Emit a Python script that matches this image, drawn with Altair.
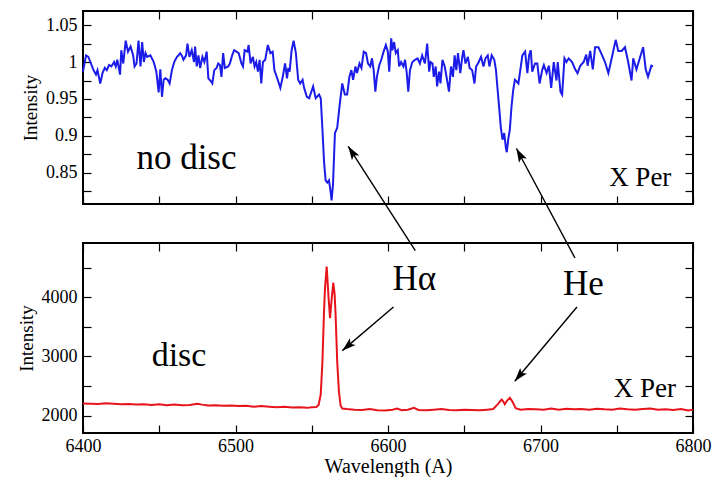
import math
import altair as alt
import pandas as pd

FONT = "Liberation Serif"

# ---------------- data ----------------
# top panel (X Per, no disc): (wavelength, normalised intensity)
blue_seg1 = [
    (6400.0, 0.987), (6402.0, 1.009), (6403.5, 1.007), (6405.2, 0.998), (6406.9, 0.989),
    (6408.5, 0.983), (6409.5, 0.989), (6411.3, 0.971), (6412.8, 0.985), (6414.3, 0.992),
    (6415.6, 0.989), (6417.1, 0.996), (6418.6, 0.994), (6420.4, 1.000), (6421.5, 0.994),
    (6422.5, 1.003), (6424.3, 0.983), (6425.1, 1.016), (6426.4, 0.998), (6428.0, 1.029),
    (6429.5, 1.014), (6431.2, 1.021), (6432.9, 1.009), (6433.8, 0.994), (6435.1, 0.998),
    (6436.4, 1.029), (6437.7, 0.994), (6438.8, 1.027), (6439.9, 1.000), (6441.0, 1.012),
    (6442.1, 1.007), (6444.2, 1.009), (6446.4, 1.000), (6448.1, 0.987), (6449.6, 0.959),
    (6450.7, 0.990), (6451.8, 0.953), (6452.9, 0.976), (6454.0, 0.978), (6455.5, 0.976),
    (6456.8, 0.971), (6458.3, 0.989), (6459.8, 1.000), (6461.6, 1.007), (6462.7, 1.009),
    (6463.7, 1.012), (6464.8, 1.009), (6465.9, 1.003), (6467.6, 1.009), (6468.5, 1.025),
    (6469.8, 1.007), (6471.3, 1.016), (6472.8, 1.000),
]
blue_seg2 = [
    (6473.5, 1.021), (6474.6, 0.994), (6475.7, 1.009), (6476.8, 0.992), (6478.3, 1.007),
    (6479.6, 1.000), (6481.1, 1.014), (6482.2, 0.978), (6483.9, 0.974), (6484.8, 0.971),
    (6486.1, 0.989), (6487.6, 0.992), (6488.7, 0.998), (6489.8, 0.996), (6490.8, 0.980),
    (6491.9, 1.012), (6493.0, 0.992), (6495.2, 0.994), (6496.3, 0.998), (6497.8, 1.009),
    (6499.1, 1.016), (6500.6, 1.014), (6502.1, 1.012), (6503.9, 0.998), (6504.9, 0.994),
    (6506.0, 1.016), (6507.8, 1.014), (6508.6, 1.023), (6509.9, 0.998), (6511.4, 1.007),
    (6512.5, 0.994), (6513.6, 1.000), (6514.7, 0.987), (6515.8, 1.003), (6516.9, 0.971),
    (6518.0, 1.000), (6519.5, 1.003), (6521.2, 1.023), (6522.9, 1.012), (6524.4, 1.014),
    (6525.5, 0.989), (6527.7, 0.976), (6529.4, 0.965), (6531.0, 0.980), (6532.5, 0.998),
    (6533.8, 0.978), (6534.6, 0.992), (6535.5, 0.987), (6536.8, 1.016), (6538.1, 1.029),
    (6539.6, 1.012), (6541.1, 0.976), (6542.4, 0.971), (6544.0, 0.976), (6545.0, 0.965),
    (6546.8, 0.953), (6548.3, 0.951),
]
blue_seg3 = [
    (6550.9, 0.967), (6552.6, 0.951), (6554.8, 0.956), (6555.9, 0.951), (6557.0, 0.909),
    (6558.1, 0.864), (6559.1, 0.840), (6560.2, 0.837), (6561.3, 0.840), (6562.4, 0.824),
    (6563.0, 0.813), (6563.9, 0.833), (6565.2, 0.904), (6566.7, 0.911), (6568.2, 0.940),
    (6570.0, 0.971), (6571.7, 0.956), (6573.2, 0.956), (6574.7, 0.980), (6576.0, 0.989),
    (6577.1, 0.976), (6578.7, 0.994), (6579.7, 0.985), (6581.3, 0.998), (6582.6, 0.992),
    (6584.1, 1.014), (6585.6, 1.012), (6586.9, 0.998), (6588.4, 0.994), (6589.5, 1.005),
    (6590.6, 0.989), (6591.7, 0.960), (6592.7, 0.980), (6594.3, 0.996), (6595.6, 1.003),
    (6597.1, 1.014), (6598.6, 1.023), (6599.9, 1.014), (6600.8, 0.987), (6602.1, 1.032),
    (6602.9, 1.016), (6604.0, 1.027), (6605.1, 1.012), (6606.4, 1.016), (6607.3, 0.994),
    (6608.6, 1.000), (6610.1, 0.994), (6611.2, 1.003), (6612.3, 0.985), (6613.3, 0.960),
    (6614.4, 0.989), (6616.0, 1.000), (6617.7, 1.003), (6619.4, 1.005), (6620.9, 0.998),
    (6622.4, 1.009), (6624.2, 0.998),
]
blue_seg4 = [
    (6625.7, 1.025), (6627.0, 0.987), (6627.9, 1.000), (6629.2, 0.998), (6630.0, 0.980),
    (6631.3, 0.994), (6632.2, 0.967), (6633.5, 0.987), (6634.4, 0.971), (6635.7, 1.003),
    (6637.2, 0.994), (6638.7, 0.976), (6640.0, 0.960), (6641.3, 0.994), (6642.6, 0.980),
    (6643.7, 1.009), (6644.8, 0.989), (6645.9, 1.012), (6647.4, 0.985), (6648.7, 1.007),
    (6649.5, 1.016), (6650.8, 0.998), (6652.4, 1.007), (6653.5, 0.992), (6655.2, 0.989),
    (6656.7, 0.971), (6657.8, 0.994), (6659.5, 1.000), (6661.0, 1.007), (6662.6, 0.994),
    (6663.9, 1.005), (6665.4, 1.009), (6666.5, 0.994), (6668.0, 1.009), (6669.7, 1.003),
    (6670.8, 0.989), (6671.9, 0.962), (6673.0, 0.936), (6674.0, 0.911), (6675.1, 0.895),
    (6676.2, 0.904), (6677.3, 0.884), (6677.9, 0.878), (6678.8, 0.895), (6679.9, 0.909),
    (6681.0, 0.940), (6682.1, 0.962), (6683.2, 0.976), (6684.2, 0.974), (6685.5, 0.971),
    (6687.1, 0.994), (6688.1, 1.009), (6689.9, 1.014), (6691.4, 0.985), (6692.5, 1.009),
    (6693.6, 1.016), (6694.6, 0.987), (6696.4, 0.998), (6697.9, 0.998), (6699.4, 0.971),
]
blue_seg5 = [
    (6701.2, 0.990), (6702.2, 0.996), (6704.0, 0.985), (6705.5, 0.995), (6707.0, 0.965),
    (6708.7, 1.000), (6710.5, 0.975), (6711.3, 1.000), (6713.1, 0.960), (6714.2, 0.956),
    (6715.7, 1.005), (6717.0, 1.000), (6718.5, 1.005), (6720.7, 1.000), (6722.8, 0.990),
    (6724.3, 0.985), (6726.1, 0.995), (6728.3, 1.000), (6730.0, 1.010), (6730.9, 0.995),
    (6732.6, 1.015), (6734.3, 0.990), (6735.8, 1.020), (6738.0, 1.020), (6740.2, 1.010),
    (6742.3, 1.000), (6744.5, 0.985), (6746.7, 1.005), (6749.3, 1.030), (6751.0, 1.015),
    (6753.2, 1.015), (6755.4, 1.020), (6757.5, 1.000), (6759.7, 0.975), (6760.8, 1.005),
    (6762.9, 0.990), (6765.1, 1.005), (6767.3, 1.020), (6769.0, 0.990), (6770.5, 0.980),
    (6772.7, 0.995), (6773.8, 0.994),
]

# bottom panel (X Per, disc): (wavelength, counts)
red_points = [
    (6400, 2205), (6405, 2200), (6410, 2195), (6415, 2210), (6420, 2200), (6425, 2190),
    (6430, 2195), (6435, 2185), (6440, 2190), (6445, 2180), (6450, 2190), (6455, 2175),
    (6460, 2185), (6465, 2175), (6470, 2180), (6475, 2200), (6478, 2185), (6482, 2170),
    (6487, 2175), (6492, 2165), (6497, 2170), (6502, 2160), (6507, 2165), (6512, 2150),
    (6517, 2160), (6522, 2150), (6527, 2140), (6532, 2150), (6537, 2135), (6542, 2140),
    (6547, 2130), (6550, 2140), (6553, 2145), (6554.5, 2180), (6555.9, 2360), (6557, 2910),
    (6558, 3730), (6558.7, 4160), (6559.8, 4520), (6561, 4000), (6562, 3645), (6563, 3950),
    (6564.1, 4246), (6565, 4050), (6565.6, 3730), (6566.7, 2910), (6567.8, 2415),
    (6568.9, 2170), (6570, 2120), (6573, 2110), (6578, 2100), (6583, 2095), (6588, 2110),
    (6593, 2090), (6598, 2085), (6603, 2100), (6606, 2120), (6609, 2090), (6613, 2100),
    (6617, 2130), (6620, 2095), (6625, 2090), (6630, 2100), (6635, 2110), (6640, 2095),
    (6645, 2090), (6650, 2100), (6655, 2095), (6660, 2090), (6665, 2100), (6669, 2110),
    (6671.9, 2190), (6673.5, 2240), (6674.5, 2270), (6675.5, 2240), (6676.6, 2190),
    (6678, 2250), (6679.9, 2300), (6681.5, 2240), (6683.7, 2125), (6687, 2100),
    (6692, 2110), (6697, 2105), (6702, 2100), (6707, 2120), (6712, 2100), (6717, 2115),
    (6722, 2105), (6727, 2110), (6732, 2100), (6737, 2115), (6742, 2105), (6747, 2100),
    (6752, 2120), (6757, 2105), (6762, 2100), (6767, 2110), (6772, 2120), (6777, 2100),
    (6782, 2105), (6787, 2095), (6792, 2110), (6797, 2085), (6800, 2100),
]

# tick values
x_ticks = [6400, 6450, 6500, 6550, 6600, 6650, 6700, 6750, 6800]
top_y_ticks = [0.825, 0.85, 0.875, 0.9, 0.925, 0.95, 0.975, 1.0, 1.025, 1.05]
bot_y_ticks = [2000, 2500, 3000, 3500, 4000, 4500]

# text annotations (label, wavelength, value)
top_texts_big = [("no disc", 6435.0, 0.855)]
top_texts_small = [("X Per", 6745.0, 0.8325)]
bot_texts_big = [("disc", 6445.0, 2836)]
bot_texts_line = [("H\u03b1", 6603.0, 4115), ("He", 6714.8, 4033)]
bot_texts_small = [("X Per", 6748.0, 2311)]

# arrows: (tail wavelength, tail value, head wavelength, head value)
top_arrows = [(6617.9, 0.745, 6573.9, 0.886), (6722.6, 0.735, 6684.2, 0.883)]
bot_arrows = [(6603.6, 3836, 6570.0, 3098), (6723.9, 3836, 6683.1, 2579)]

# ---------------- layout ----------------
W = 610
H_TOP = 193
H_BOT = 190
GAP = 39
TICK = 8
X_DOM = [6400, 6800]
TOP_DOM = [0.808, 1.069]
BOT_DOM = [1705, 4918]

x_scale = alt.Scale(domain=X_DOM, nice=False, zero=False)
top_scale = alt.Scale(domain=TOP_DOM, nice=False, zero=False)
bot_scale = alt.Scale(domain=BOT_DOM, nice=False, zero=False)

ARROW_PATH = "M0,0L-0.32,1L0,0.78L0.32,1Z"


def tick_axis(orient, values):
    return alt.Axis(orient=orient, values=values, labels=False, tickSize=TICK,
                    offset=-TICK, domain=False, grid=False, title=None,
                    tickColor="black", tickWidth=1.2, minExtent=0)


def label_axis(orient, values, expr, title, title_size, label_pad, title_pad):
    return alt.Axis(orient=orient, values=values, labelExpr=expr, tickSize=TICK,
                    offset=-TICK, domain=False, grid=False, labelFont=FONT,
                    labelFontSize=18, labelColor="black", labelPadding=label_pad,
                    labelOverlap=False, labelFlush=False, tickColor="black",
                    tickWidth=1.2, title=title, titleFont=FONT,
                    titleFontSize=title_size, titleFontWeight="normal",
                    titleColor="black", titlePadding=title_pad, minExtent=0)


def arrow_frame(arrows, ydom, h):
    rows = []
    for xt, yt, xh, yh in arrows:
        dx = (xh - xt) * W / (X_DOM[1] - X_DOM[0])
        dy = -(yh - yt) * h / (ydom[1] - ydom[0])
        ang = math.degrees(math.atan2(dx, -dy)) % 360
        rows.append({"xt": xt, "yt": yt, "xh": xh, "yh": yh, "ang": ang})
    return pd.DataFrame(rows)


def text_layer(items, yscale, size, axes=None):
    df = pd.DataFrame(items, columns=["t", "x", "y"])
    if axes is None:
        xa, ya = None, None
    else:
        xa, ya = axes
    return alt.Chart(df).mark_text(font=FONT, fontSize=size, align="left",
                                   baseline="alphabetic", color="black").encode(
        x=alt.X("x:Q", scale=x_scale, axis=xa),
        y=alt.Y("y:Q", scale=yscale, axis=ya),
        text="t:N",
    )


def arrow_layers(arrows, yscale, ydom, h):
    df = arrow_frame(arrows, ydom, h)
    lines = alt.Chart(df).mark_rule(color="black", strokeWidth=1.4).encode(
        x=alt.X("xt:Q", scale=x_scale, axis=None),
        y=alt.Y("yt:Q", scale=yscale, axis=None),
        x2="xh:Q", y2="yh:Q",
    )
    heads = alt.Chart(df).mark_point(shape=ARROW_PATH, filled=True, color="black",
                                     opacity=1, size=760, strokeWidth=0).encode(
        x=alt.X("xh:Q", scale=x_scale, axis=None),
        y=alt.Y("yh:Q", scale=yscale, axis=None),
        angle=alt.Angle("ang:Q", scale=None),
    )
    return [lines, heads]


blue = pd.DataFrame(blue_seg1 + blue_seg2 + blue_seg3 + blue_seg4 + blue_seg5,
                    columns=["wl", "v"])
red = pd.DataFrame(red_points, columns=["wl", "v"])

top_y_expr = "round(datum.value*40) % 2 == 0 ? format(datum.value, '~g') : ''"
bot_y_expr = "datum.value % 1000 == 0 ? format(datum.value, 'd') : ''"
x_expr = "datum.value % 100 == 0 ? format(datum.value, 'd') : ''"

top_line = alt.Chart(blue).mark_line(color="#1c1ce8", strokeWidth=2).encode(
    x=alt.X("wl:Q", scale=x_scale, axis=tick_axis("bottom", x_ticks)),
    y=alt.Y("v:Q", scale=top_scale,
            axis=label_axis("left", top_y_ticks, top_y_expr, "Intensity", 19, 6, 5)),
)
top = alt.layer(
    top_line,
    text_layer(top_texts_small, top_scale, 27,
               axes=(tick_axis("top", x_ticks), tick_axis("right", top_y_ticks))),
    text_layer(top_texts_big, top_scale, 35),
    *arrow_layers(top_arrows, top_scale, TOP_DOM, H_TOP),
).resolve_axis(x="independent", y="independent").properties(width=W, height=H_TOP)

bot_line = alt.Chart(red).mark_line(color="#e8141c", strokeWidth=2).encode(
    x=alt.X("wl:Q", scale=x_scale,
            axis=label_axis("bottom", x_ticks, x_expr, "Wavelength (A)", 20, 4, 1)),
    y=alt.Y("v:Q", scale=bot_scale,
            axis=label_axis("left", bot_y_ticks, bot_y_expr, "Intensity", 19, 6, 5)),
)
bottom = alt.layer(
    bot_line,
    text_layer(bot_texts_small, bot_scale, 27,
               axes=(tick_axis("top", x_ticks), tick_axis("right", bot_y_ticks))),
    text_layer(bot_texts_big, bot_scale, 34),
    text_layer(bot_texts_line, bot_scale, 35),
    *arrow_layers(bot_arrows, bot_scale, BOT_DOM, H_BOT),
).resolve_axis(x="independent", y="independent").properties(width=W, height=H_BOT)

chart = alt.vconcat(top, bottom, spacing=GAP, bounds="flush").properties(
    padding={"left": 8, "top": 1, "right": 0, "bottom": 0},
    background="white",
).configure_view(stroke="black", strokeWidth=2)

chart.save("out.html", embed_options={"renderer": "svg", "actions": False})
